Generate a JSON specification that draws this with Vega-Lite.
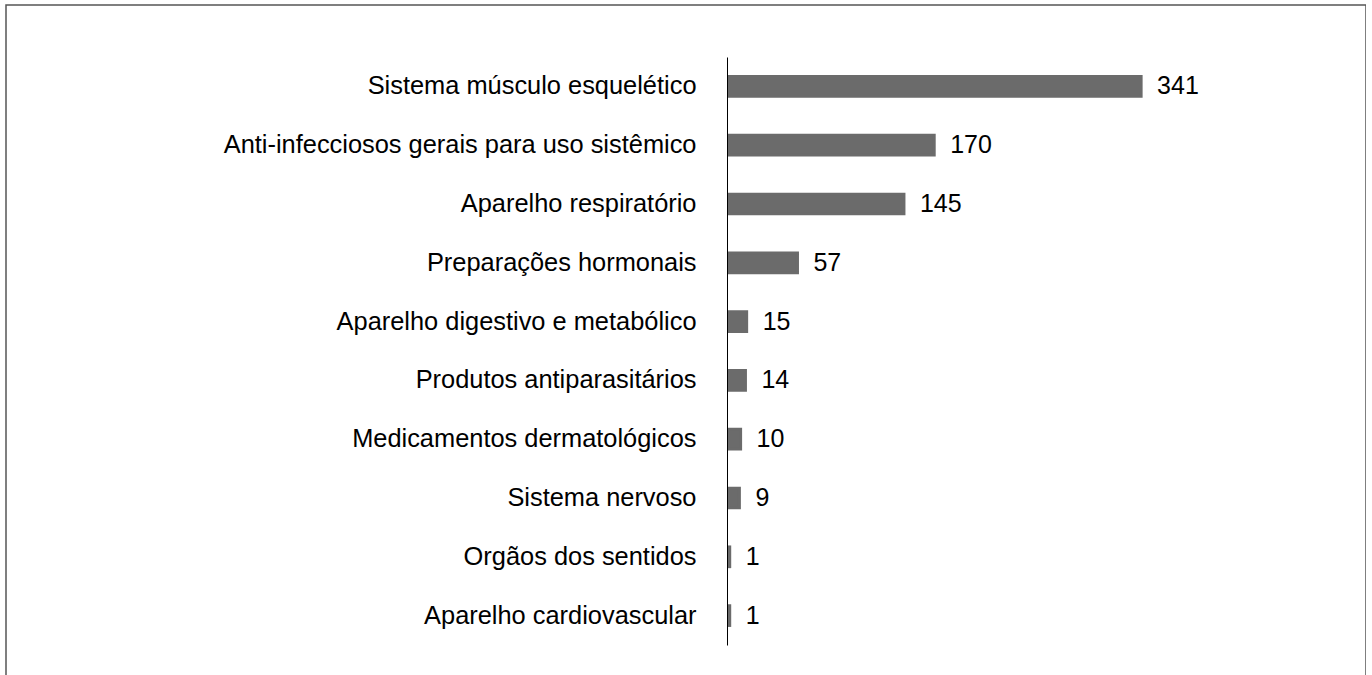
{
  "$schema": "https://vega.github.io/schema/vega-lite/v6.json",
  "autosize": {"type": "none"},
  "padding": {"left": 6, "top": 5, "right": 0, "bottom": 0},
  "width": 1360,
  "height": 690,
  "config": {
    "view": {"stroke": "#555555", "strokeWidth": 1.5},
    "font": "Liberation Sans"
  },
  "data": {
    "values": [
      {"categoria": "Sistema músculo esquelético", "valor": 341},
      {"categoria": "Anti-infecciosos gerais para uso sistêmico", "valor": 170},
      {"categoria": "Aparelho respiratório", "valor": 145},
      {"categoria": "Preparações hormonais", "valor": 57},
      {"categoria": "Aparelho digestivo e metabólico", "valor": 15},
      {"categoria": "Produtos antiparasitários", "valor": 14},
      {"categoria": "Medicamentos dermatológicos", "valor": 10},
      {"categoria": "Sistema nervoso", "valor": 9},
      {"categoria": "Orgãos dos sentidos", "valor": 1},
      {"categoria": "Aparelho cardiovascular", "valor": 1}
    ]
  },
  "encoding": {
    "y": {
      "field": "categoria",
      "type": "nominal",
      "sort": null,
      "scale": {"range": [52, 640], "paddingInner": 0.665, "paddingOuter": 0.3325},
      "axis": {
        "orient": "left",
        "offset": -721,
        "zindex": 1,
        "title": null,
        "ticks": false,
        "domain": true,
        "domainColor": "#000000",
        "domainWidth": 1,
        "labelPadding": 31,
        "labelFontSize": 25.4,
        "labelColor": "#000000",
        "labelFont": "Liberation Sans",
        "labelLimit": 0,
        "grid": false
      }
    },
    "x": {
      "field": "valor",
      "type": "quantitative",
      "scale": {"domain": [0, 400], "range": [722.5, 1206.5], "zero": true, "nice": false},
      "axis": null
    }
  },
  "layer": [
    {"mark": {"type": "bar", "color": "#6b6b6b", "stroke": "#6b6b6b", "strokeWidth": 3}},
    {
      "mark": {"type": "text", "align": "left", "baseline": "middle", "dx": 16, "fontSize": 25, "color": "#000000", "font": "Liberation Sans"},
      "encoding": {"text": {"field": "valor", "type": "quantitative"}}
    }
  ]
}
